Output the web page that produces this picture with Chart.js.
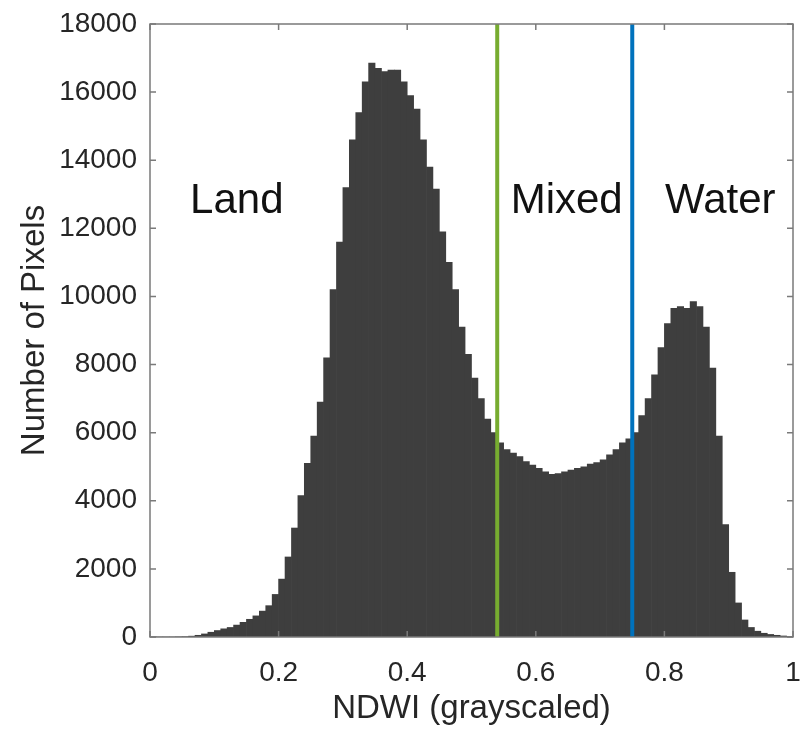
<!DOCTYPE html>
<html>
<head>
<meta charset="utf-8">
<script src="https://cdn.jsdelivr.net/npm/chart.js@4.4.1/dist/chart.umd.min.js"></script>
<style>
  html, body { margin: 0; padding: 0; background: #ffffff; }
  #wrap { width: 800px; height: 729px; }
</style>
</head>
<body>
<div id="wrap"><canvas id="ndwiHistogram" width="800" height="729"></canvas></div>
<script>
const binCenters = [
  0.005, 0.015, 0.025, 0.035, 0.045, 0.055, 0.065, 0.075, 0.085, 0.095,
  0.105, 0.115, 0.125, 0.135, 0.145, 0.155, 0.165, 0.175, 0.185, 0.195,
  0.205, 0.215, 0.225, 0.235, 0.245, 0.255, 0.265, 0.275, 0.285, 0.295,
  0.305, 0.315, 0.325, 0.335, 0.345, 0.355, 0.365, 0.375, 0.385, 0.395,
  0.405, 0.415, 0.425, 0.435, 0.445, 0.455, 0.465, 0.475, 0.485, 0.495,
  0.505, 0.515, 0.525, 0.535, 0.545, 0.555, 0.565, 0.575, 0.585, 0.595,
  0.605, 0.615, 0.625, 0.635, 0.645, 0.655, 0.665, 0.675, 0.685, 0.695,
  0.705, 0.715, 0.725, 0.735, 0.745, 0.755, 0.765, 0.775, 0.785, 0.795,
  0.805, 0.815, 0.825, 0.835, 0.845, 0.855, 0.865, 0.875, 0.885, 0.895,
  0.905, 0.915, 0.925, 0.935, 0.945, 0.955, 0.965, 0.975, 0.985, 0.995,
];

const pixelCounts = [
  0, 0, 0, 0, 5, 10, 25, 50, 90, 140,
  190, 240, 280, 350, 430, 520, 620, 760, 920, 1250,
  1700, 2350, 3200, 4150, 5100, 5900, 6900, 8200, 10200, 11600,
  13200, 14600, 15400, 16300, 16850, 16700, 16600, 16650, 16650, 16300,
  15900, 15500, 14600, 13800, 13150, 11900, 11000, 10200, 9100, 8300,
  7600, 7000, 6400, 6000, 5700, 5500, 5400, 5300, 5150, 5050,
  4950, 4850, 4780, 4800, 4850, 4900, 4950, 5000, 5080, 5120,
  5200, 5350, 5500, 5700, 5820, 6000, 6500, 7000, 7700, 8500,
  9200, 9650, 9700, 9650, 9850, 9700, 9100, 7900, 5900, 3300,
  1900, 1000, 500, 280, 170, 110, 75, 50, 30, 15,
];

// thresholds between the classes
const thresholds = [0.54, 0.75];
const thresholdColors = ["#77ac30", "#0072bd"];

const regionNames = ["Land", "Mixed", "Water"];
const regionX = [0.135, 0.648, 0.887];
const regionY = [12450, 12450, 12450];

const xTicks = [0, 0.2, 0.4, 0.6, 0.8, 1];
const yTicks = [0, 2000, 4000, 6000, 8000, 10000, 12000, 14000, 16000, 18000];

const fontName = "'Liberation Sans', Arial, Helvetica, sans-serif";

const boxPlugin = {
  id: "boxPlugin",
  afterDatasetsDraw(chart) {
    const ctx = chart.ctx;
    const area = chart.chartArea;
    const xs = chart.scales.x;
    const ys = chart.scales.y;

    ctx.save();
    ctx.fillStyle = "#111111";
    ctx.font = "42px " + fontName;
    ctx.textAlign = "center";
    ctx.textBaseline = "alphabetic";
    for (let i = 0; i < regionNames.length; i++) {
      ctx.fillText(regionNames[i], xs.getPixelForValue(regionX[i]), ys.getPixelForValue(regionY[i]));
    }

    ctx.strokeStyle = "#7a7a7a";
    ctx.lineWidth = 1.5;
    ctx.strokeRect(area.left, area.top, area.right - area.left, area.bottom - area.top);

    // inward ticks on all four sides
    const len = 6;
    ctx.beginPath();
    xTicks.forEach((v) => {
      const px = xs.getPixelForValue(v);
      ctx.moveTo(px, area.bottom);
      ctx.lineTo(px, area.bottom - len);
      ctx.moveTo(px, area.top);
      ctx.lineTo(px, area.top + len);
    });
    yTicks.forEach((v) => {
      const py = ys.getPixelForValue(v);
      ctx.moveTo(area.left, py);
      ctx.lineTo(area.left + len, py);
      ctx.moveTo(area.right, py);
      ctx.lineTo(area.right - len, py);
    });
    ctx.stroke();
    ctx.restore();
  },
};

function buildDatasets() {
  const datasets = [
    {
      type: "bar",
      label: "Number of Pixels",
      data: binCenters.map((c, i) => ({ x: c, y: pixelCounts[i] })),
      backgroundColor: "#3e3e3e",
      borderWidth: 0,
      barPercentage: 1,
      categoryPercentage: 1,
      order: 2,
    },
  ];
  thresholds.forEach((t, i) => {
    datasets.push({
      type: "line",
      label: "threshold " + t,
      data: [
        { x: t, y: 0 },
        { x: t, y: 18000 },
      ],
      borderColor: thresholdColors[i],
      borderWidth: 4,
      pointRadius: 0,
      fill: false,
      order: 1,
    });
  });
  return datasets;
}

function main() {
  const ctx = document.getElementById("ndwiHistogram").getContext("2d");
  new Chart(ctx, {
    type: "bar",
    data: { datasets: buildDatasets() },
    plugins: [boxPlugin],
    options: {
      responsive: false,
      animation: false,
      events: [],
      layout: { padding: { left: 0, right: 7, top: 24, bottom: 0 } },
      plugins: {
        legend: { display: false },
        tooltip: { enabled: false },
      },
      scales: {
        x: {
          type: "linear",
          min: 0,
          max: 1,
          offset: false,
          afterBuildTicks: (scale) => {
            scale.ticks = xTicks.map((v) => ({ value: v }));
          },
          afterFit: (scale) => {
            scale.height = 92;
            scale.paddingLeft = 0;
            scale.paddingRight = 0;
          },
          grid: { display: false, drawTicks: false },
          border: { display: false },
          ticks: {
            color: "#262626",
            padding: 19,
            maxRotation: 0,
            font: { family: fontName, size: 28 },
            callback: (v) => String(v),
          },
          title: {
            display: true,
            text: "NDWI (grayscaled)",
            color: "#262626",
            font: { family: fontName, size: 33, lineHeight: 1 },
            padding: { top: 0, bottom: 4 },
          },
        },
        y: {
          min: 0,
          max: 18000,
          afterBuildTicks: (scale) => {
            scale.ticks = yTicks.map((v) => ({ value: v }));
          },
          afterFit: (scale) => {
            scale.width = 150;
            scale.paddingTop = 0;
            scale.paddingBottom = 0;
          },
          grid: { display: false, drawTicks: false },
          border: { display: false },
          ticks: {
            color: "#262626",
            padding: 13,
            font: { family: fontName, size: 28 },
            callback: (v) => String(v),
          },
          title: {
            display: true,
            text: "Number of Pixels",
            color: "#262626",
            font: { family: fontName, size: 33, lineHeight: 1.2 },
            padding: { top: 15, bottom: 0 },
          },
        },
      },
    },
  });
}

main();
</script>
</body>
</html>
